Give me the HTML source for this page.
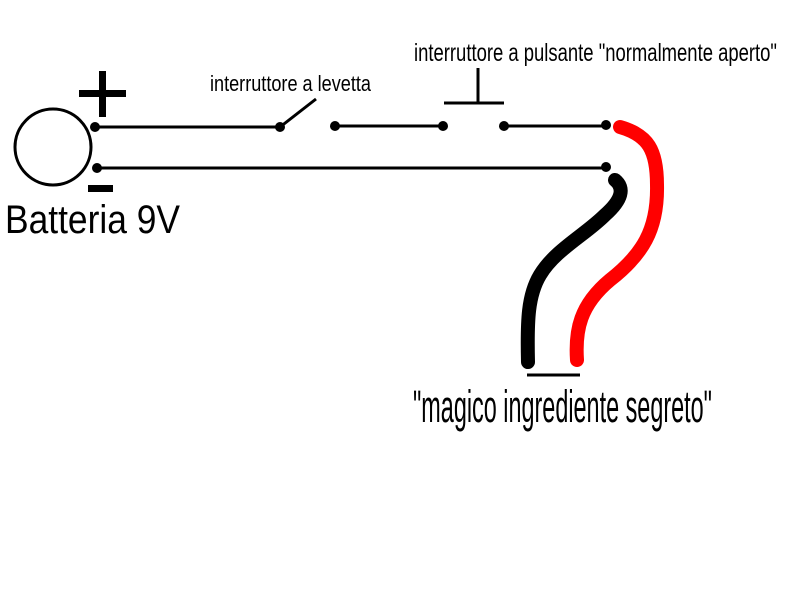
<!DOCTYPE html>
<html><head><meta charset="utf-8"><style>html,body{margin:0;padding:0;background:#fff}svg{display:block}</style></head>
<body>
<svg width="800" height="600" viewBox="0 0 800 600" xmlns="http://www.w3.org/2000/svg" font-family="'Liberation Sans', sans-serif">
<rect width="800" height="600" fill="#fff"/>
<circle cx="53" cy="147" r="38" fill="none" stroke="#000" stroke-width="3"/>
<rect x="99" y="71" width="7" height="46" fill="#000"/>
<rect x="79" y="90" width="47" height="7" fill="#000"/>
<rect x="88" y="185" width="25" height="7" fill="#000"/>
<g stroke="#000" stroke-width="3" fill="none">
<line x1="95" y1="127" x2="280" y2="127"/>
<line x1="280" y1="127" x2="316" y2="99"/>
<line x1="335" y1="126" x2="443" y2="126"/>
<line x1="504" y1="126" x2="606" y2="126"/>
<line x1="97" y1="168" x2="606" y2="168"/>
<line x1="444" y1="103" x2="504" y2="103"/>
<line x1="478" y1="68" x2="478" y2="103"/>
<line x1="527" y1="375" x2="580" y2="375"/>
</g>
<g fill="#000">
<circle cx="95" cy="127" r="5"/><circle cx="280" cy="127" r="5"/>
<circle cx="335" cy="126" r="5"/><circle cx="443" cy="126" r="5"/>
<circle cx="504" cy="126" r="5"/><circle cx="606" cy="125" r="5"/>
<circle cx="97" cy="168" r="5"/><circle cx="606" cy="167" r="5"/>
</g>
<path d="M620 127 C648 135 657 150 657 185 C658 230 642 255 610 280 C580 305 575 330 577 360" fill="none" stroke="#f00" stroke-width="14" stroke-linecap="round"/>
<path d="M615 180 C625 188 622 200 605 215 C585 235 555 250 540 275 C528 295 527 320 528 362" fill="none" stroke="#000" stroke-width="14" stroke-linecap="round"/>
<text x="5" y="233" font-size="40" textLength="175" lengthAdjust="spacingAndGlyphs">Batteria 9V</text>
<text x="210" y="91" font-size="22" textLength="161" lengthAdjust="spacingAndGlyphs">interruttore a levetta</text>
<text x="414" y="61" font-size="25" textLength="363" lengthAdjust="spacingAndGlyphs">interruttore a pulsante "normalmente aperto"</text>
<text x="413" y="422" font-size="45" textLength="299" lengthAdjust="spacingAndGlyphs">"magico ingrediente segreto"</text>
</svg>
</body></html>
